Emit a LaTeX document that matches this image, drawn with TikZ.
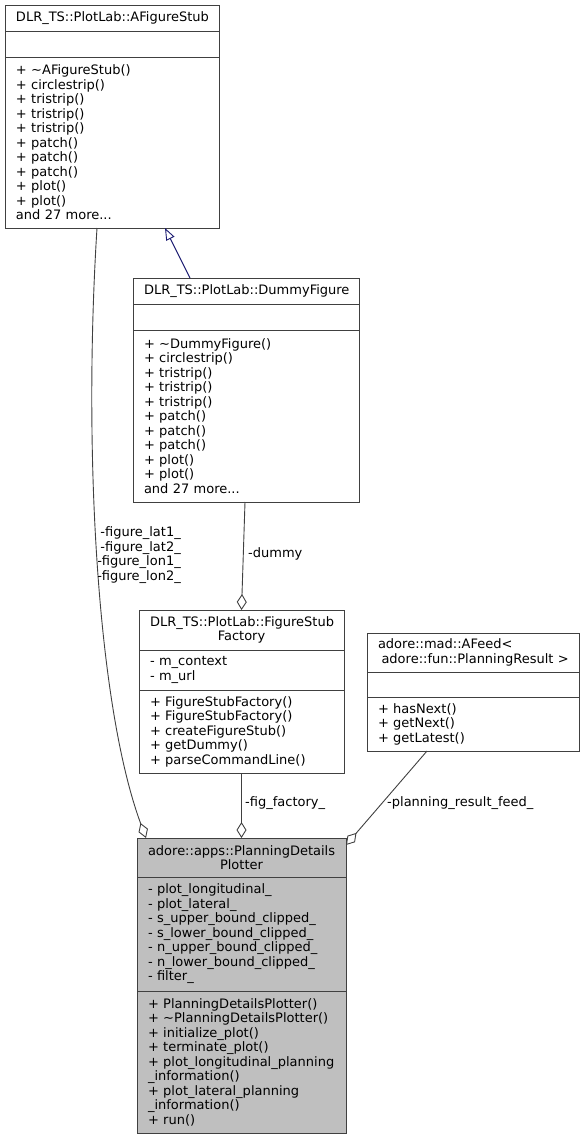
\documentclass[tikz,border=0pt]{standalone}
\usepackage{fontspec}
\setmainfont{DejaVu Sans}
\usetikzlibrary{arrows.meta,positioning}

\definecolor{edgegray}{HTML}{404040}
\definecolor{inhblue}{HTML}{191970}
\definecolor{curfill}{HTML}{BFBFBF}

\newcommand{\pub}[1]{+~#1}
\newcommand{\priv}[1]{-~#1}

\tikzset{
  box/.style={draw=edgegray, line width=0.9pt, outer sep=0pt, inner xsep=11pt, inner ysep=0pt, text width=#1, align=left},
  head/.style={box=#1, align=center},
  aggr/.style={draw=edgegray, line width=0.9pt, -{Diamond[open,length=16pt,width=10pt]}},
  inherit/.style={draw=inhblue, line width=0.9pt, -{Triangle[open,length=12pt,width=9pt]}},
  lbl/.style={inner sep=0pt}
}

\begin{document}
\begin{tikzpicture}[x=1pt,y=-1pt,font=\fontsize{13}{14.5}\selectfont]
  \useasboundingbox (0,0) rectangle (585,1140);

  % AFigureStub
  \node[head=192pt, minimum height=26pt, anchor=north west] (stubT) at (5,5) {DLR\_TS::PlotLab::AFigureStub};
  \node[box=192pt, minimum height=26pt, below=0pt of stubT] (stubA) {};
  \node[box=192pt, minimum height=171pt, below=0pt of stubA] (stubO) {\pub{\textasciitilde AFigureStub()}\\\pub{circlestrip()}\\\pub{tristrip()}\\\pub{tristrip()}\\\pub{tristrip()}\\\pub{patch()}\\\pub{patch()}\\\pub{patch()}\\\pub{plot()}\\\pub{plot()}\\and 27 more...};

  % DummyFigure
  \node[head=204pt, minimum height=26pt, anchor=north west] (dummyT) at (133,278) {DLR\_TS::PlotLab::DummyFigure};
  \node[box=204pt, minimum height=26pt, below=0pt of dummyT] (dummyA) {};
  \node[box=204pt, minimum height=172pt, below=0pt of dummyA] (dummyO) {\pub{\textasciitilde DummyFigure()}\\\pub{circlestrip()}\\\pub{tristrip()}\\\pub{tristrip()}\\\pub{tristrip()}\\\pub{patch()}\\\pub{patch()}\\\pub{patch()}\\\pub{plot()}\\\pub{plot()}\\and 27 more...};

  % FigureStubFactory
  \node[head=183pt, minimum height=40pt, anchor=north west] (factT) at (139,610) {DLR\_TS::PlotLab::FigureStub\\Factory};
  \node[box=183pt, minimum height=40pt, below=0pt of factT] (factA) {\priv{m\_context}\\\priv{m\_url}};
  \node[box=183pt, minimum height=83pt, below=0pt of factA] (factO) {\pub{FigureStubFactory()}\\\pub{FigureStubFactory()}\\\pub{createFigureStub()}\\\pub{getDummy()}\\\pub{parseCommandLine()}};

  % AFeed
  \node[box=190pt, minimum height=39pt, anchor=north west] (feedT) at (367,633) {adore::mad::AFeed<\\\hspace*{3.5pt}adore::fun::PlanningResult~>};
  \node[box=190pt, minimum height=25pt, below=0pt of feedT] (feedA) {};
  \node[box=190pt, minimum height=54pt, below=0pt of feedA] (feedO) {\pub{hasNext()}\\\pub{getNext()}\\\pub{getLatest()}};

  % PlanningDetailsPlotter
  \node[head=187pt, fill=curfill, minimum height=39pt, anchor=north west] (plotT) at (137,838) {adore::apps::PlanningDetails\\Plotter};
  \node[box=187pt, fill=curfill, minimum height=114pt, below=0pt of plotT] (plotA) {\priv{plot\_longitudinal\_}\\\priv{plot\_lateral\_}\\\priv{s\_upper\_bound\_clipped\_}\\\priv{s\_lower\_bound\_clipped\_}\\\priv{n\_upper\_bound\_clipped\_}\\\priv{n\_lower\_bound\_clipped\_}\\\priv{filter\_}};
  \node[box=187pt, fill=curfill, minimum height=142pt, below=0pt of plotA] (plotO) {\pub{PlanningDetailsPlotter()}\\\pub{\textasciitilde PlanningDetailsPlotter()}\\\pub{initialize\_plot()}\\\pub{terminate\_plot()}\\\pub{plot\_longitudinal\_planning}\\\_information()\\\pub{plot\_lateral\_planning}\\\_information()\\\pub{run()}};

  % connectors
  \draw[inherit] ([xshift=-56pt]dummyT.north) -- ([xshift=53pt]stubO.south);
  \draw[aggr] ([xshift=-15pt]stubO.south) .. controls (83,450) and (97,705) .. ([xshift=-95.5pt]plotT.north);
  \draw[aggr] ([xshift=-1pt]dummyO.south) -- (factT.north);
  \draw[aggr] (factO.south) -- (plotT.north);
  \draw[aggr] ([xshift=-46pt]feedO.south) -- ([yshift=-7pt]plotT.north east);

  \node[lbl, anchor=east, align=right] (latlon) at (181,555) {-figure\_lat1\_\\-figure\_lat2\_\\-figure\_lon1\_\\-figure\_lon2\_};
  \node[lbl, anchor=west] (dummylbl) at (248,554) {-dummy};
  \node[lbl, anchor=west] (factlbl) at (245,803) {-fig\_factory\_};
  \node[lbl, anchor=west] (feedlbl) at (387,803) {-planning\_result\_feed\_};
\end{tikzpicture}
\end{document}
